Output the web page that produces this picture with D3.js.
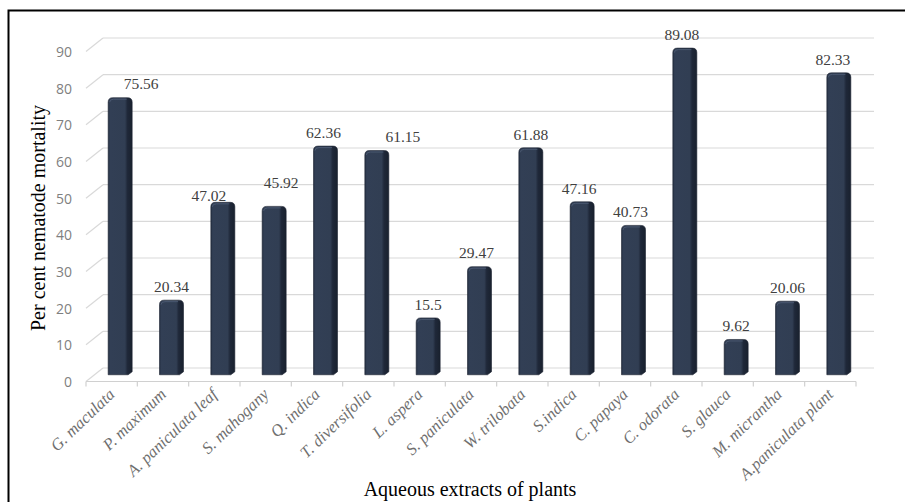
<!DOCTYPE html>
<html>
<head>
<meta charset="utf-8">
<script src="https://cdn.jsdelivr.net/npm/d3@7"></script>
<style>
  html, body { margin: 0; padding: 0; background: #fff; }
  svg { display: block; }
</style>
</head>
<body>
<svg id="chart" width="905" height="502"></svg>
<script>
// Plant extracts and their nematode mortality (%)
const categories = ["G. maculata", "P. maximum", "A. paniculata leaf", "S. mahogany", "Q. indica",
  "T. diversifolia", "L. aspera", "S. paniculata", "W. trilobata", "S.indica", "C. papaya",
  "C. odorata", "S. glauca", "M. micrantha", "A.paniculata plant"];
const mortality = [75.56, 20.34, 47.02, 45.92, 62.36, 61.15, 15.5, 29.47, 61.88, 47.16, 40.73,
  89.08, 9.62, 20.06, 82.33];
const yTicks = [0, 10, 20, 30, 40, 50, 60, 70, 80, 90];

// Small nudges keeping value labels clear of neighbouring bars
const labelNudgeX = [21, 0, -14, 7, -2, 26, 0, -3, 0, -3, -3, -3, 0, 0, -6];
const labelNudgeY = [0, 0, 7, -10, 0, 0, 0, 0, 0, 0, 0, 0, 0, 0, 0];

const svg = d3.select("#chart");

// Frame (left and top edges)
svg.append("path").attr("d", "M8.5,502 V10.5 H905")
  .attr("fill", "none").attr("stroke", "#000").attr("stroke-width", 2);

// Perspective: back wall is shifted right/up from the front plane
const depthX = 17, depthY = 13.5;
const x = d3.scaleBand().domain(categories).range([86, 856]);
const y = d3.scaleLinear().domain([0, 90]).range([368, 38]);
const wallRight = 874;

// Gridlines on the back wall with diagonal side-wall segments
const grid = svg.append("g");
yTicks.forEach(t => {
  grid.append("line")
    .attr("x1", 86 + depthX).attr("x2", wallRight)
    .attr("y1", y(t)).attr("y2", y(t))
    .attr("stroke", "#d9d9d9").attr("stroke-width", 1.2);
  grid.append("line")
    .attr("x1", 86).attr("y1", y(t) + depthY)
    .attr("x2", 86 + depthX).attr("y2", y(t))
    .attr("stroke", "#d9d9d9").attr("stroke-width", 1.2);
});

// Front category axis
const xAxis = svg.append("g");
xAxis.append("line").attr("x1", 86).attr("x2", 856)
  .attr("y1", y(0) + depthY).attr("y2", y(0) + depthY)
  .attr("stroke", "#d0d0d0").attr("stroke-width", 1.2);
const bounds = categories.map(c => x(c)).concat([x.range()[1]]);
xAxis.selectAll("line.tick").data(bounds).join("line").attr("class", "tick")
  .attr("x1", d => d).attr("x2", d => d)
  .attr("y1", y(0) + depthY).attr("y2", y(0) + depthY + 5)
  .attr("stroke", "#d0d0d0").attr("stroke-width", 1.2);

// Y tick labels on the front plane
svg.append("g").selectAll("text").data(yTicks).join("text")
  .attr("x", 72).attr("y", d => y(d) + depthY)
  .attr("text-anchor", "end").attr("dominant-baseline", "central")
  .attr("font-family", "'Open Sans', sans-serif").attr("font-size", 14)
  .attr("fill", "#7f7f7f").text(d => d);

// Bar shading
const defs = svg.append("defs");
const grad = defs.append("linearGradient").attr("id", "barGrad")
  .attr("x1", "0%").attr("x2", "100%").attr("y1", "0%").attr("y2", "0%");
[["0%", "#253043"], ["8%", "#323f55"], ["70%", "#313e53"], ["80%", "#1f2839"], ["100%", "#19212e"]]
  .forEach(([o, c]) => grad.append("stop").attr("offset", o).attr("stop-color", c));

const midX = depthX / 2, midY = depthY / 2;
const barW = 24, r = 4.5;
const bars = svg.append("g");
categories.forEach((c, i) => {
  const cx = x(c) + x.bandwidth() / 2 + midX;
  const yt = y(mortality[i]) + midY;
  const yb = y(0) + midY;
  const x0 = cx - barW / 2, x1 = cx + barW / 2;
  bars.append("path")
    .attr("d", `M${x0},${yb} V${yt + r} Q${x0},${yt} ${x0 + r},${yt} H${x1 - r} Q${x1},${yt} ${x1},${yt + r} V${yb - 3} L${x1 - 4},${yb} Z`)
    .attr("fill", "url(#barGrad)").attr("stroke", "#1b2230").attr("stroke-width", 0.6);
  // top bevel highlight
  bars.append("path")
    .attr("d", `M${x0 + 1.5},${yt + r} Q${x0 + 1.5},${yt + 1.5} ${x0 + r + 1},${yt + 1.5} H${x1 - r - 1}`)
    .attr("fill", "none").attr("stroke", "#4a5870").attr("stroke-width", 1);
});

// Value labels
svg.append("g").selectAll("text").data(categories).join("text")
  .attr("x", (c, i) => x(c) + x.bandwidth() / 2 + midX + labelNudgeX[i])
  .attr("y", (c, i) => y(mortality[i]) - 7 + labelNudgeY[i])
  .attr("text-anchor", "middle").attr("dominant-baseline", "central")
  .attr("font-family", "'Liberation Serif', serif").attr("font-size", 15.5)
  .attr("fill", "#404040").text((c, i) => mortality[i]);

// Rotated category labels
svg.append("g").selectAll("text").data(categories).join("text")
  .attr("transform", c => `translate(${x(c) + x.bandwidth() / 2 + 4},${y(0) + depthY + 14}) rotate(-44)`)
  .attr("text-anchor", "end")
  .attr("font-family", "'Liberation Serif', serif").attr("font-style", "italic")
  .attr("font-size", 16.5).attr("fill", "#6f6f6f").text(c => c);

// Axis titles
svg.append("text").attr("x", 470).attr("y", 496).attr("text-anchor", "middle")
  .attr("font-family", "'Liberation Serif', serif").attr("font-size", 20)
  .attr("fill", "#000").text("Aqueous extracts of plants");
svg.append("text").attr("transform", "translate(45,218) rotate(-90)").attr("text-anchor", "middle")
  .attr("font-family", "'Liberation Serif', serif").attr("font-size", 20)
  .attr("fill", "#000").text("Per cent nematode mortality");
</script>
</body>
</html>
